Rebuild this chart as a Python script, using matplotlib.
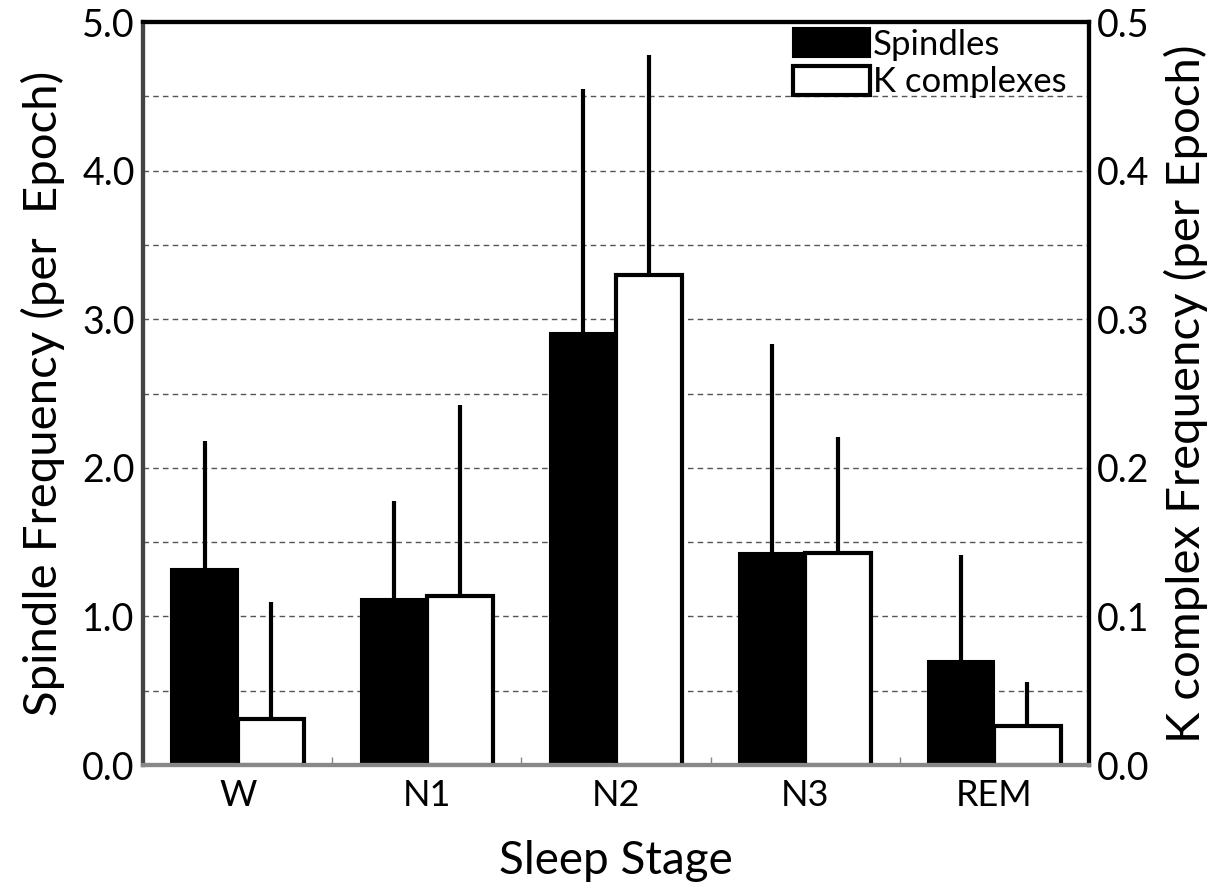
import matplotlib
matplotlib.use("Agg")
import matplotlib.pyplot as plt
import numpy as np

plt.rcParams['font.family'] = ['Lato', 'DejaVu Sans']

# Datos
stages = ['W', 'N1', 'N2', 'N3', 'REM']
spindles = [1.32, 1.12, 2.91, 1.43, 0.70]
spindles_err = [0.86, 0.66, 1.64, 1.40, 0.71]
kcomplex = [0.031, 0.114, 0.330, 0.143, 0.026]
kcomplex_err = [0.079, 0.128, 0.148, 0.078, 0.030]

x = np.arange(len(stages))
w = 0.35

fig = plt.figure(figsize=(12.31, 8.88), dpi=100)
ax = fig.add_axes([0.1162, 0.1385, 0.7684, 0.8367])
ax2 = ax.twinx()

# grid
ax.set_axisbelow(True)
ax.yaxis.grid(True, linestyle=(0, (4, 3)), color='#555555', linewidth=1.0)
ax.set_yticks(np.arange(0, 5.01, 1.0))
ax.set_yticks(np.arange(0.5, 5.0, 1.0), minor=True)
ax.yaxis.grid(True, which='minor', linestyle=(0, (4, 3)), color='#555555', linewidth=1.0)

err_kw = dict(elinewidth=3, capsize=0, ecolor='black')
ax.bar(x - w / 2, spindles, w, color='black', edgecolor='black', linewidth=1.5,
       yerr=[np.zeros(5), spindles_err], error_kw=err_kw, label='Spindles')
ax2.bar(x + w / 2, kcomplex, w, color='white', edgecolor='black', linewidth=3,
        yerr=[np.zeros(5), kcomplex_err], error_kw=err_kw, label='K complexes')

ax.set_xlim(-0.5, 4.5)
ax.set_ylim(0, 5.0)
ax2.set_ylim(0, 0.5)
ax2.set_yticks(np.arange(0, 0.51, 0.1))

ax.set_yticklabels(['%.1f' % v for v in np.arange(0, 5.01, 1.0)])
ax2.set_yticklabels(['%.1f' % v for v in np.arange(0, 0.51, 0.1)])

ax.set_xticks(x)
ax.set_xticklabels(stages)
ax.set_xticks(np.arange(0.5, 4.0, 1.0), minor=True)
ax.tick_params(axis='x', which='major', length=0, labelsize=26, pad=10)
ax.tick_params(axis='x', which='minor', direction='in', length=6, color='#888888', width=1)
ax.tick_params(axis='y', which='both', length=0, labelsize=27, pad=6)
ax2.tick_params(axis='y', length=0, labelsize=27, pad=6)

ax.set_xlabel('Sleep Stage', fontsize=33, labelpad=20)
ax.set_ylabel('Spindle Frequency (per  Epoch)', fontsize=34, labelpad=12)
ax2.set_ylabel('K complex Frequency (per Epoch)', fontsize=34, labelpad=10)

for a in (ax, ax2):
    a.spines['top'].set_linewidth(3)
    a.spines['right'].set_linewidth(3)
    a.spines['left'].set_linewidth(3)
    a.spines['left'].set_color('#444444')
    a.spines['bottom'].set_linewidth(3)
    a.spines['bottom'].set_color('#888888')

h1, l1 = ax.get_legend_handles_labels()
h2, l2 = ax2.get_legend_handles_labels()
ax2.legend(h1 + h2, l1 + l2, loc='upper right', bbox_to_anchor=(0.995, 1.015),
           frameon=False, fontsize=25, handlelength=2.2, handleheight=0.9,
           handletextpad=0.1, labelspacing=0.15, borderaxespad=0.1)

fig.savefig('out.png', dpi=100)
